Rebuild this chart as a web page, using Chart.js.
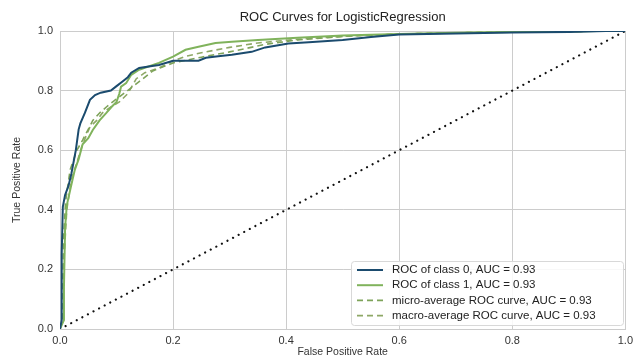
<!DOCTYPE html>
<html>
<head>
<meta charset="utf-8">
<script src="https://cdn.jsdelivr.net/npm/chart.js@4.4.0/dist/chart.umd.min.js"></script>
<style>
  body { margin: 0; background: #fff; }
  #roc { display: block; }
</style>
</head>
<body>
<canvas id="roc" width="638" height="358"></canvas>
<script>
// values (false positive rate / true positive rate)
var fpr0 = [0, 0.003, 0.003, 0.005, 0.009, 0.015, 0.02, 0.028, 0.033, 0.036, 0.044, 0.053, 0.062, 0.072, 0.09, 0.1, 0.11, 0.12, 0.126, 0.14, 0.16, 0.175, 0.2, 0.22, 0.245, 0.258, 0.28, 0.304, 0.339, 0.363, 0.404, 0.44, 0.5, 0.55, 0.6, 0.7, 0.8, 0.9, 0.965, 1.0];
var tpr0 = [0, 0.03, 0.25, 0.41, 0.45, 0.48, 0.52, 0.6, 0.67, 0.69, 0.725, 0.769, 0.785, 0.793, 0.8, 0.815, 0.83, 0.845, 0.86, 0.876, 0.882, 0.886, 0.9, 0.9, 0.9, 0.91, 0.915, 0.92, 0.93, 0.945, 0.958, 0.962, 0.97, 0.98, 0.988, 0.992, 0.995, 0.997, 1.0, 1.0];

var fpr1 = [0, 0.007, 0.007, 0.009, 0.012, 0.018, 0.022, 0.026, 0.033, 0.04, 0.05, 0.058, 0.07, 0.082, 0.091, 0.1, 0.105, 0.108, 0.117, 0.126, 0.14, 0.175, 0.2, 0.222, 0.245, 0.275, 0.304, 0.35, 0.42, 0.5, 0.6, 0.7, 0.8, 0.9, 0.95, 1.0];
var tpr1 = [0, 0.03, 0.14, 0.34, 0.415, 0.466, 0.5, 0.533, 0.57, 0.62, 0.64, 0.668, 0.70, 0.725, 0.745, 0.762, 0.79, 0.813, 0.825, 0.853, 0.87, 0.893, 0.914, 0.937, 0.947, 0.96, 0.964, 0.97, 0.977, 0.985, 0.99, 0.994, 0.997, 0.998, 1.0, 1.0];

var fprMicro = [0, 0.004, 0.006, 0.01, 0.018, 0.03, 0.04, 0.05, 0.058, 0.07, 0.082, 0.095, 0.105, 0.123, 0.14, 0.164, 0.2, 0.25, 0.3, 0.363, 0.42, 0.5, 0.6, 0.7, 0.8, 0.9, 0.96, 1.0];
var tprMicro = [0, 0.03, 0.3, 0.43, 0.535, 0.6, 0.634, 0.67, 0.70, 0.725, 0.745, 0.765, 0.779, 0.805, 0.83, 0.866, 0.893, 0.912, 0.93, 0.955, 0.97, 0.982, 0.99, 0.994, 0.997, 0.998, 1.0, 1.0];

var fprMacro = [0, 0.004, 0.006, 0.012, 0.02, 0.03, 0.04, 0.053, 0.065, 0.075, 0.09, 0.105, 0.12, 0.135, 0.15, 0.175, 0.2, 0.222, 0.25, 0.3, 0.35, 0.42, 0.5, 0.6, 0.7, 0.8, 0.9, 0.96, 1.0];
var tprMacro = [0, 0.03, 0.2, 0.4, 0.5, 0.56, 0.62, 0.678, 0.70, 0.725, 0.745, 0.762, 0.79, 0.84, 0.86, 0.876, 0.9, 0.915, 0.927, 0.945, 0.96, 0.972, 0.982, 0.99, 0.994, 0.997, 0.998, 1.0, 1.0];

var diagonal = [0, 1];

var seriesLabels = [
    "ROC of class 0, AUC = 0.93",
    "ROC of class 1, AUC = 0.93",
    "micro-average ROC curve, AUC = 0.93",
    "macro-average ROC curve, AUC = 0.93"
];
var tickValues = [0, 0.2, 0.4, 0.6, 0.8, 1.0];

function pts(xs, ys) {
    return xs.map(function(x, i) { return { x: x, y: ys[i] }; });
}

var colors = ["#1b4b6e", "#80b35c", "#7ea35a", "#8ea866"];

// legend drawn inside the plot, lower right
var boxLegend = {
    id: "boxLegend",
    afterDatasetsDraw: function(chart) {
        var ctx = chart.ctx;
        var x0 = 351, y0 = 261, w = 272, h = 64;
        ctx.save();
        ctx.fillStyle = "rgba(255,255,255,0.85)";
        ctx.strokeStyle = "#d8d8d8";
        ctx.lineWidth = 1;
        ctx.beginPath();
        ctx.roundRect(x0 + 0.5, y0 + 0.5, w, h, 3);
        ctx.fill();
        ctx.stroke();
        ctx.font = "11.5px 'Liberation Sans', Arial, sans-serif";
        ctx.textBaseline = "middle";
        ctx.fillStyle = "#222";
        for (var i = 0; i < 4; i++) {
            var ds = chart.data.datasets[i];
            var yy = y0 + 9 + i * 15.2;
            ctx.strokeStyle = ds.borderColor;
            ctx.lineWidth = ds.borderWidth;
            ctx.setLineDash(ds.borderDash || []);
            ctx.beginPath();
            ctx.moveTo(357, yy);
            ctx.lineTo(383, yy);
            ctx.stroke();
            ctx.setLineDash([]);
            ctx.fillText(seriesLabels[i], 392, yy);
        }
        ctx.restore();
    }
};

var ctx = document.getElementById("roc").getContext("2d");
var myChart = new Chart(ctx, {
    type: "line",
    data: {
        datasets: [{
            label: seriesLabels[0],
            data: pts(fpr0, tpr0),
            borderColor: colors[0],
            borderWidth: 2
        }, {
            label: seriesLabels[1],
            data: pts(fpr1, tpr1),
            borderColor: colors[1],
            borderWidth: 2
        }, {
            label: seriesLabels[2],
            data: pts(fprMicro, tprMicro),
            borderColor: colors[2],
            borderWidth: 1.6,
            borderDash: [6, 4]
        }, {
            label: seriesLabels[3],
            data: pts(fprMacro, tprMacro),
            borderColor: colors[3],
            borderWidth: 1.6,
            borderDash: [6, 4]
        }, {
            label: "diagonal",
            data: pts(diagonal, diagonal),
            borderColor: "#111",
            borderWidth: 2.2,
            borderCapStyle: "round",
            borderDash: [0.01, 6.3]
        }]
    },
    options: {
        responsive: false,
        animation: false,
        layout: { padding: { top: 10, right: 8, left: 0, bottom: 0 } },
        elements: { point: { radius: 0 }, line: { tension: 0, fill: false } },
        plugins: {
            legend: { display: false },
            tooltip: { enabled: false },
            title: {
                display: true,
                fullSize: false,
                text: "ROC Curves for LogisticRegression",
                color: "#222",
                font: { family: "'Liberation Sans', Arial, sans-serif", size: 13, weight: "normal" },
                padding: { top: 0, bottom: 5.4 }
            }
        },
        scales: {
            x: {
                type: "linear",
                min: 0, max: 1,
                afterBuildTicks: function(axis) {
                    axis.ticks = tickValues.map(function(v) { return { value: v }; });
                },
                afterFit: function(axis) { axis.height = 29; },
                ticks: {
                    padding: 5,
                    color: "#333",
                    font: { family: "'Liberation Sans', Arial, sans-serif", size: 11 },
                    callback: function(v) { return v.toFixed(1); }
                },
                grid: { color: "#cccccc", lineWidth: 1, drawTicks: false },
                border: { display: true, color: "#cccccc" },
                title: {
                    display: true,
                    text: "False Positive Rate",
                    color: "#333",
                    font: { family: "'Liberation Sans', Arial, sans-serif", size: 10.5 },
                    padding: { top: 0, bottom: 0 }
                }
            },
            y: {
                type: "linear",
                min: 0, max: 1,
                afterBuildTicks: function(axis) {
                    axis.ticks = tickValues.map(function(v) { return { value: v }; });
                },
                afterFit: function(axis) { axis.width = 60; },
                ticks: {
                    padding: 7,
                    color: "#333",
                    font: { family: "'Liberation Sans', Arial, sans-serif", size: 11 },
                    callback: function(v) { return v.toFixed(1); }
                },
                grid: { color: "#cccccc", lineWidth: 1, drawTicks: false },
                border: { display: true, color: "#cccccc" },
                title: {
                    display: true,
                    text: "True Positive Rate",
                    color: "#333",
                    font: { family: "'Liberation Sans', Arial, sans-serif", size: 10.5 },
                    padding: { top: 11, bottom: 0 }
                }
            }
        }
    },
    plugins: [boxLegend]
});
</script>
</body>
</html>
